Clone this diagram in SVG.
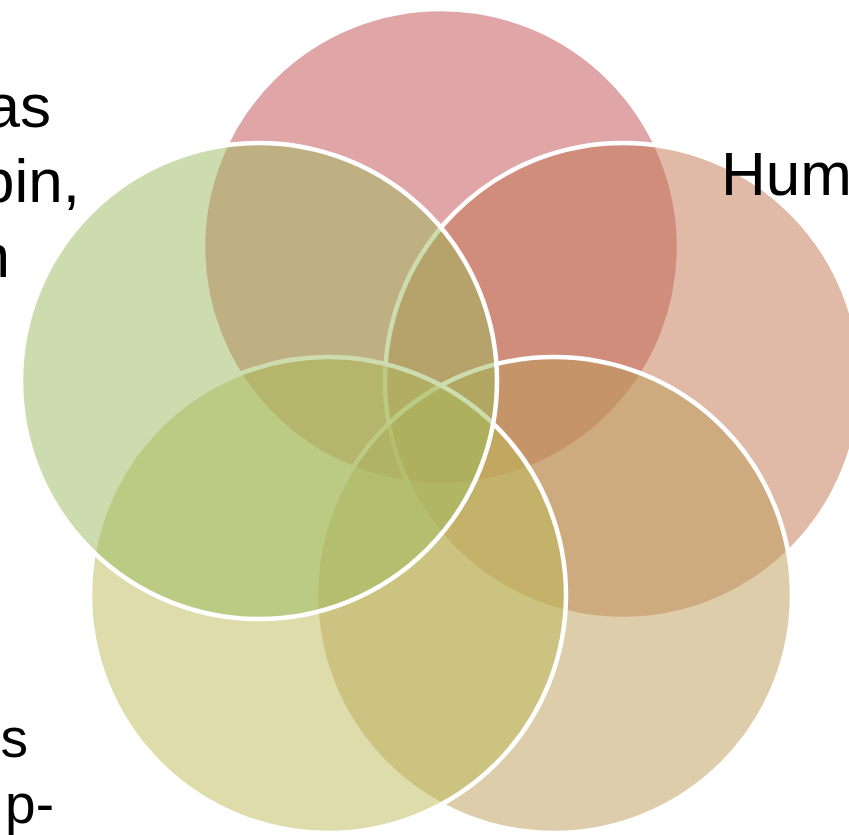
<svg xmlns="http://www.w3.org/2000/svg" width="849" height="835" viewBox="0 0 849 835">
<style>
.c{stroke:#FFFFFF;stroke-width:4.5;fill-opacity:0.5}
.t{font-family:"Liberation Sans",Arial,sans-serif;fill:#000000}
</style>
<rect width="849" height="835" fill="#FFFFFF"/>
<g id="circle-top"><circle class="c" cx="441" cy="247" r="238" fill="#C14D4F"/></g>
<g id="circle-right"><circle class="c" cx="623" cy="381" r="238" fill="#C1734F"/></g>
<g id="circle-bottom-right"><circle class="c" cx="554" cy="595" r="238" fill="#BB9B57"/></g>
<g id="circle-bottom-left"><circle class="c" cx="328" cy="595" r="238" fill="#BBB955"/></g>
<g id="circle-left"><circle class="c" cx="259" cy="381" r="238" fill="#9BB95D"/></g>
<g id="connectors"></g>
<g id="text-left">
<text class="t" font-size="62" text-anchor="end" x="51" y="127">as</text>
<text class="t" font-size="62" text-anchor="end" x="80" y="202">pin,</text>
<text class="t" font-size="62" text-anchor="end" x="10" y="277">n</text>
</g>
<g id="text-right"><text class="t" font-size="62" x="721" y="195">Hum</text></g>
<g id="text-bottom">
<text class="t" font-size="55" text-anchor="end" x="28" y="757">es</text>
<text class="t" font-size="55" text-anchor="end" x="54" y="823">p-</text>
</g>
</svg>
